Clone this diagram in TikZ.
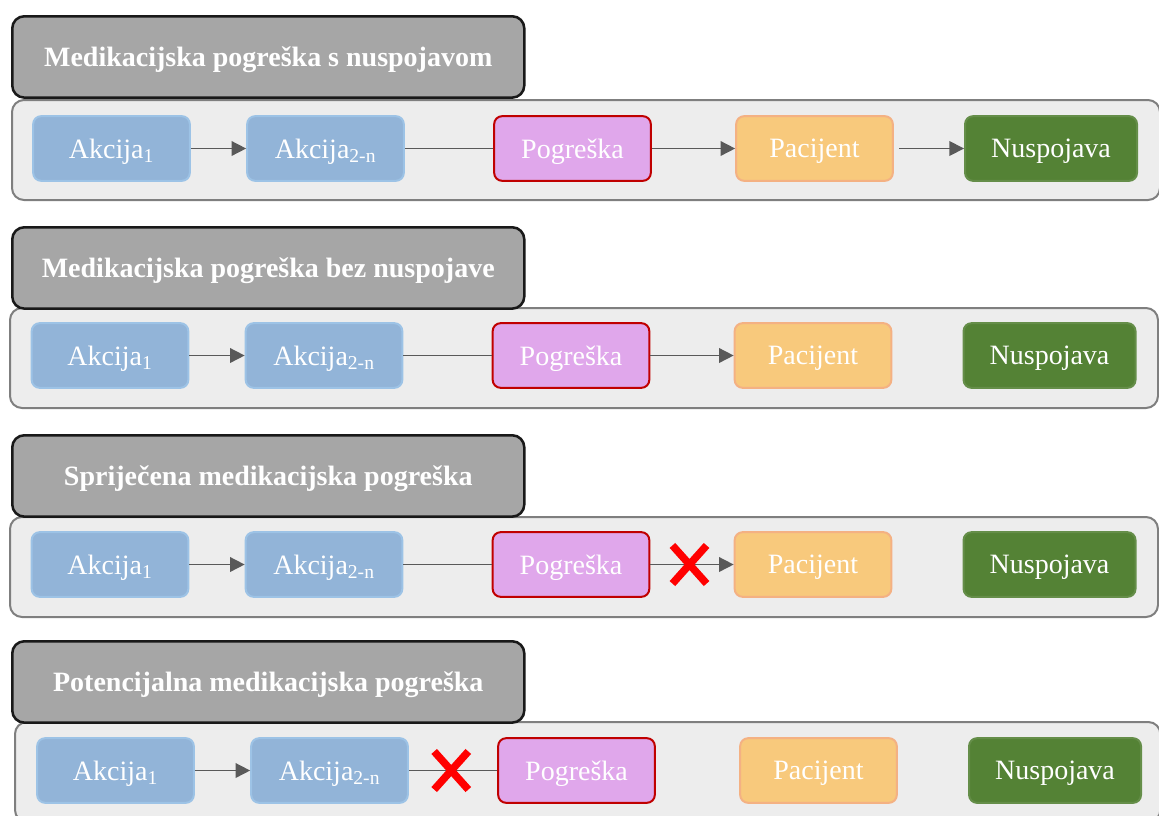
\documentclass[tikz,border=0pt]{standalone}
\usepackage{fontspec}
\setmainfont{Liberation Serif}
\usetikzlibrary{shapes.misc, arrows.meta, positioning, calc}
\definecolor{titlegray}{HTML}{A6A6A6}
\definecolor{panelgray}{HTML}{EDEDED}
\definecolor{paneledge}{HTML}{7F7F7F}
\definecolor{actfill}{HTML}{92B4D8}
\definecolor{actedge}{HTML}{9DC3E6}
\definecolor{errfill}{HTML}{E0A7EB}
\definecolor{erredge}{HTML}{C00000}
\definecolor{patfill}{HTML}{F8C97C}
\definecolor{patedge}{HTML}{F4B183}
\definecolor{advfill}{HTML}{548235}
\definecolor{arrowgray}{HTML}{595959}
\tikzstyle{title} = [rectangle, rounded corners=9pt, minimum width=384pt, minimum height=61pt, anchor=north west, text centered, text depth=0pt, draw=black!90, line width=1.9pt, fill=titlegray, text=white, font=\fontsize{21}{25}\selectfont\bfseries]
\tikzstyle{panel} = [rectangle, rounded corners=9pt, minimum width=861pt, minimum height=75pt, anchor=north west, draw=paneledge, line width=1.5pt, fill=panelgray]
\tikzstyle{action} = [rectangle, rounded corners=6pt, minimum width=117.5pt, minimum height=48.5pt, text centered, text depth=0pt, draw=actedge, line width=1.5pt, fill=actfill, text=white, font=\fontsize{21}{25}\selectfont]
\tikzstyle{error} = [action, draw=erredge, fill=errfill]
\tikzstyle{patient} = [action, draw=patedge, fill=patfill]
\tikzstyle{adverse} = [action, minimum width=129pt, draw=advfill!90!white, fill=advfill]
\tikzstyle{arrow} = [line width=1.2pt, draw=arrowgray, -{Triangle[length=11pt,width=11pt]}]
\tikzstyle{line} = [line width=1.2pt, draw=arrowgray]
\tikzstyle{stop} = [cross out, draw=red, line width=5.6pt, minimum width=20pt, minimum height=23pt, inner sep=0pt]

\begin{document}
\begin{tikzpicture}[x=0.75pt, y=-0.75pt, node distance=180pt]
\useasboundingbox (0,0) rectangle (1159,815);

% Medikacijska pogreska s nuspojavom
\node (box1) [panel] at (11,99) {};
\node (title1) [title] at (11,15) {Medikacijska pogreška s nuspojavom};
\node (a11) [action] at (111.5,148.5) {Akcija\textsubscript{1}};
\node (a12) [action, right of=a11, xshift=-19.5pt] {Akcija\textsubscript{2-n}};
\node (err1) [error, right of=a12, xshift=5.25pt] {Pogreška};
\node (pat1) [patient, right of=err1, xshift=1.5pt] {Pacijent};
\node (adv1) [adverse, right of=pat1, xshift=-2.6pt] {Nuspojava};

\draw [arrow] (a11) -- (a12);
\draw [line] (a12) -- (err1);
\draw [arrow] (err1) -- (pat1);
\draw [arrow] ([xshift=4pt]pat1.east) -- (adv1);

% Medikacijska pogreska bez nuspojave
\node (box2) [panel] at (9,307) {};
\node (title2) [title] at (11,226) {Medikacijska pogreška bez nuspojave};
\node (a21) [action] at (110,355.5) {Akcija\textsubscript{1}};
\node (a22) [action, right of=a21, xshift=-19.5pt] {Akcija\textsubscript{2-n}};
\node (err2) [error, right of=a22, xshift=5.25pt] {Pogreška};
\node (pat2) [patient, right of=err2, xshift=1.5pt] {Pacijent};
\node (adv2) [adverse, right of=pat2, xshift=-2.6pt] {Nuspojava};

\draw [arrow] (a21) -- (a22);
\draw [line] (a22) -- (err2);
\draw [arrow] (err2) -- (pat2);

% Sprijecena medikacijska pogreska
\node (box3) [panel] at (9,516) {};
\node (title3) [title] at (11,434) {Spriječena medikacijska pogreška};
\node (a31) [action] at (110,564.5) {Akcija\textsubscript{1}};
\node (a32) [action, right of=a31, xshift=-19.5pt] {Akcija\textsubscript{2-n}};
\node (err3) [error, right of=a32, xshift=5.25pt] {Pogreška};
\node (pat3) [patient, right of=err3, xshift=1.5pt] {Pacijent};
\node (adv3) [adverse, right of=pat3, xshift=-2.6pt] {Nuspojava};

\draw [arrow] (a31) -- (a32);
\draw [line] (a32) -- (err3);
\draw [arrow] (err3) -- (pat3);
\node (x3) [stop] at ($(err3.east)!0.47!(pat3.west)$) {};

% Potencijalna medikacijska pogreska
\node (box4) [panel, minimum width=859pt] at (14,721) {};
\node (title4) [title] at (11,640) {Potencijalna medikacijska pogreška};
\node (a41) [action] at (115.5,770.5) {Akcija\textsubscript{1}};
\node (a42) [action, right of=a41, xshift=-19.5pt] {Akcija\textsubscript{2-n}};
\node (err4) [error, right of=a42, xshift=5.25pt] {Pogreška};
\node (pat4) [patient, right of=err4, xshift=1.5pt] {Pacijent};
\node (adv4) [adverse, right of=pat4, xshift=-2.6pt] {Nuspojava};

\draw [arrow] (a41) -- (a42);
\draw [line] (a42) -- (err4);
\node (x4) [stop] at ($(a42.east)!0.48!(err4.west)$) {};

\end{tikzpicture}
\end{document}
